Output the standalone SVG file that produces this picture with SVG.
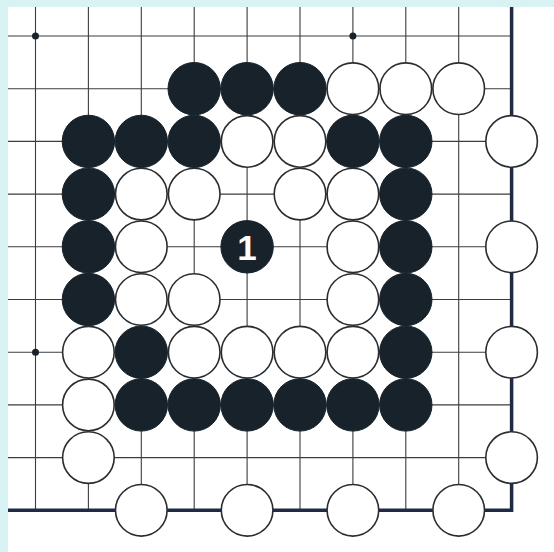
<svg xmlns="http://www.w3.org/2000/svg" width="554" height="552" viewBox="0 0 554 552">
<style>
.grid{stroke:#3a3d40;stroke-width:1.1;fill:none}
.edge{stroke:#1f2a44;stroke-width:3.5;fill:none}
.b{fill:#17222a;stroke:#17222a;stroke-width:1}
.w{fill:#ffffff;stroke:#2a2d30;stroke-width:1.6}
.star{fill:#17222a}
.num{font-family:"Liberation Sans",Arial,sans-serif;font-weight:bold;font-size:35px;fill:#ffffff;text-anchor:middle}
</style>
<rect x="0" y="0" width="554" height="552" fill="#ffffff"/>
<rect x="0" y="0" width="554" height="7" fill="#d9f3f5"/>
<rect x="0" y="0" width="8" height="552" fill="#d9f3f5"/>
<g id="connectors">
<g class="grid">
<line x1="35.5" y1="7" x2="35.5" y2="510"/>
<line x1="88.4" y1="7" x2="88.4" y2="510"/>
<line x1="141.3" y1="7" x2="141.3" y2="510"/>
<line x1="194.2" y1="7" x2="194.2" y2="510"/>
<line x1="247.1" y1="7" x2="247.1" y2="510"/>
<line x1="300" y1="7" x2="300" y2="510"/>
<line x1="352.9" y1="7" x2="352.9" y2="510"/>
<line x1="405.8" y1="7" x2="405.8" y2="510"/>
<line x1="458.7" y1="7" x2="458.7" y2="510"/>
<line x1="8" y1="36" x2="511" y2="36"/>
<line x1="8" y1="88.7" x2="511" y2="88.7"/>
<line x1="8" y1="141.4" x2="511" y2="141.4"/>
<line x1="8" y1="194.1" x2="511" y2="194.1"/>
<line x1="8" y1="246.8" x2="511" y2="246.8"/>
<line x1="8" y1="299.5" x2="511" y2="299.5"/>
<line x1="8" y1="352.2" x2="511" y2="352.2"/>
<line x1="8" y1="404.9" x2="511" y2="404.9"/>
<line x1="8" y1="457.6" x2="511" y2="457.6"/>
</g>
<path class="edge" d="M511.6 7 V510.3 H8"/>
<circle class="star" cx="35.5" cy="36" r="3.5"/>
<circle class="star" cx="352.9" cy="36" r="3.5"/>
<circle class="star" cx="35.5" cy="352.2" r="3.5"/>
</g>
<g id="b-3-1"><circle class="b" cx="194.2" cy="88.7" r="26.2"/></g>
<g id="b-4-1"><circle class="b" cx="247.1" cy="88.7" r="26.2"/></g>
<g id="b-5-1"><circle class="b" cx="300" cy="88.7" r="26.2"/></g>
<g id="w-6-1"><circle class="w" cx="352.9" cy="88.7" r="25.8"/></g>
<g id="w-7-1"><circle class="w" cx="405.8" cy="88.7" r="25.8"/></g>
<g id="w-8-1"><circle class="w" cx="458.7" cy="88.7" r="25.8"/></g>
<g id="b-1-2"><circle class="b" cx="88.4" cy="141.4" r="26.2"/></g>
<g id="b-2-2"><circle class="b" cx="141.3" cy="141.4" r="26.2"/></g>
<g id="b-3-2"><circle class="b" cx="194.2" cy="141.4" r="26.2"/></g>
<g id="w-4-2"><circle class="w" cx="247.1" cy="141.4" r="25.8"/></g>
<g id="w-5-2"><circle class="w" cx="300" cy="141.4" r="25.8"/></g>
<g id="b-6-2"><circle class="b" cx="352.9" cy="141.4" r="26.2"/></g>
<g id="b-7-2"><circle class="b" cx="405.8" cy="141.4" r="26.2"/></g>
<g id="w-9-2"><circle class="w" cx="511.6" cy="141.4" r="25.8"/></g>
<g id="b-1-3"><circle class="b" cx="88.4" cy="194.1" r="26.2"/></g>
<g id="w-2-3"><circle class="w" cx="141.3" cy="194.1" r="25.8"/></g>
<g id="w-3-3"><circle class="w" cx="194.2" cy="194.1" r="25.8"/></g>
<g id="w-5-3"><circle class="w" cx="300" cy="194.1" r="25.8"/></g>
<g id="w-6-3"><circle class="w" cx="352.9" cy="194.1" r="25.8"/></g>
<g id="b-7-3"><circle class="b" cx="405.8" cy="194.1" r="26.2"/></g>
<g id="b-1-4"><circle class="b" cx="88.4" cy="246.8" r="26.2"/></g>
<g id="w-2-4"><circle class="w" cx="141.3" cy="246.8" r="25.8"/></g>
<g id="move-1"><circle class="b" cx="247.1" cy="246.8" r="26.2"/><text class="num" x="247.1" y="259.5">1</text></g>
<g id="w-6-4"><circle class="w" cx="352.9" cy="246.8" r="25.8"/></g>
<g id="b-7-4"><circle class="b" cx="405.8" cy="246.8" r="26.2"/></g>
<g id="w-9-4"><circle class="w" cx="511.6" cy="246.8" r="25.8"/></g>
<g id="b-1-5"><circle class="b" cx="88.4" cy="299.5" r="26.2"/></g>
<g id="w-2-5"><circle class="w" cx="141.3" cy="299.5" r="25.8"/></g>
<g id="w-3-5"><circle class="w" cx="194.2" cy="299.5" r="25.8"/></g>
<g id="w-6-5"><circle class="w" cx="352.9" cy="299.5" r="25.8"/></g>
<g id="b-7-5"><circle class="b" cx="405.8" cy="299.5" r="26.2"/></g>
<g id="w-1-6"><circle class="w" cx="88.4" cy="352.2" r="25.8"/></g>
<g id="b-2-6"><circle class="b" cx="141.3" cy="352.2" r="26.2"/></g>
<g id="w-3-6"><circle class="w" cx="194.2" cy="352.2" r="25.8"/></g>
<g id="w-4-6"><circle class="w" cx="247.1" cy="352.2" r="25.8"/></g>
<g id="w-5-6"><circle class="w" cx="300" cy="352.2" r="25.8"/></g>
<g id="w-6-6"><circle class="w" cx="352.9" cy="352.2" r="25.8"/></g>
<g id="b-7-6"><circle class="b" cx="405.8" cy="352.2" r="26.2"/></g>
<g id="w-9-6"><circle class="w" cx="511.6" cy="352.2" r="25.8"/></g>
<g id="w-1-7"><circle class="w" cx="88.4" cy="404.9" r="25.8"/></g>
<g id="b-2-7"><circle class="b" cx="141.3" cy="404.9" r="26.2"/></g>
<g id="b-3-7"><circle class="b" cx="194.2" cy="404.9" r="26.2"/></g>
<g id="b-4-7"><circle class="b" cx="247.1" cy="404.9" r="26.2"/></g>
<g id="b-5-7"><circle class="b" cx="300" cy="404.9" r="26.2"/></g>
<g id="b-6-7"><circle class="b" cx="352.9" cy="404.9" r="26.2"/></g>
<g id="b-7-7"><circle class="b" cx="405.8" cy="404.9" r="26.2"/></g>
<g id="w-1-8"><circle class="w" cx="88.4" cy="457.6" r="25.8"/></g>
<g id="w-9-8"><circle class="w" cx="511.6" cy="457.6" r="25.8"/></g>
<g id="w-2-9"><circle class="w" cx="141.3" cy="510.3" r="25.8"/></g>
<g id="w-4-9"><circle class="w" cx="247.1" cy="510.3" r="25.8"/></g>
<g id="w-6-9"><circle class="w" cx="352.9" cy="510.3" r="25.8"/></g>
<g id="w-8-9"><circle class="w" cx="458.7" cy="510.3" r="25.8"/></g>
</svg>
